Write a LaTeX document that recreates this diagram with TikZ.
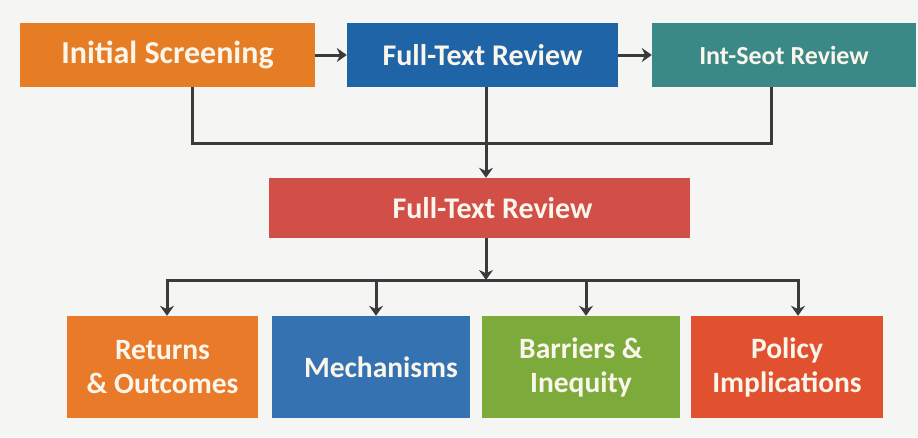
\documentclass[tikz,border=0pt]{standalone}
\usepackage{fontspec}
\setmainfont{Carlito}
\usetikzlibrary{positioning,arrows.meta}
\tikzset{>={Stealth[length=10pt,width=14pt]}}
\definecolor{paper}{HTML}{F5F5F4}
\definecolor{wire}{HTML}{3A3A3A}
\definecolor{ink}{HTML}{FBF6EC}
\definecolor{orng}{HTML}{E67D25}
\definecolor{blu}{HTML}{1F64A6}
\definecolor{teal}{HTML}{3B8987}
\definecolor{rd}{HTML}{D24F47}
\definecolor{orngb}{HTML}{E97A29}
\definecolor{blub}{HTML}{3572B1}
\definecolor{grn}{HTML}{7CAA3B}
\definecolor{rdb}{HTML}{E2512F}
\newcommand*{\fs}[1]{\bfseries\fontsize{#1}{34}\selectfont}
\tikzset{box/.style={fill=#1,text=ink,align=center,inner sep=0pt},
  link/.style={line width=3pt,draw=wire}}

\begin{document}
\begin{tikzpicture}[x=1pt,y=-1pt]
\fill[paper] (0,0) rectangle (918,437);
% top row
\node[box=orng,minimum width=295pt,minimum height=64pt,font=\fs{32}] (init) at (167.5,55) {Initial Screening};
\node[box=blu,minimum width=271pt,minimum height=64pt,font=\fs{30}] (ftr) at (482.5,55) {Full-Text Review};
\node[box=teal,minimum width=264pt,minimum height=64pt,font=\fs{26}] (isr) at (784,55) {Int-Seot Review};
\draw[link,->] (init) -- (ftr);
\draw[link,->] (ftr) -- (isr);
% merge into the middle box
\coordinate (j) at (486,143);
\node[box=rd,minimum width=421pt,minimum height=60pt,font=\fs{30}] (mid) at (479.5,208) {\hspace*{26pt}Full-Text Review};
\draw[link] ([xshift=24.5pt]init.south) |- (j);
\draw[link] ([xshift=-13pt]isr.south) |- (j);
\draw[link,->] (j |- ftr.south) -- (j |- mid.north);
% bottom row
\node[box=orngb,minimum width=191pt,minimum height=102pt,font=\fs{29.5}] (ret) at (162.5,367) {Returns\\\& Outcomes};
\node[box=blub,minimum width=198pt,minimum height=102pt,font=\fs{29.5}] (mech) at (371,367) {\hspace*{20pt}Mechanisms};
\node[box=grn,minimum width=198pt,minimum height=102pt,font=\fs{29.5}] (barr) at (581,367) {Barriers \&\\Inequity};
\node[box=rdb,minimum width=192pt,minimum height=102pt,font=\fs{29.5}] (pol) at (787,367) {Policy\\Implications};
\coordinate (bus) at (486,280);
\draw[link,->] (j |- mid.south) -- (bus);
\foreach \b/\d in {ret/4.5,mech/5,barr/5,pol/11}
  \draw[link,->] (bus) -| ([xshift=\d pt]\b.north);
\end{tikzpicture}
\end{document}
